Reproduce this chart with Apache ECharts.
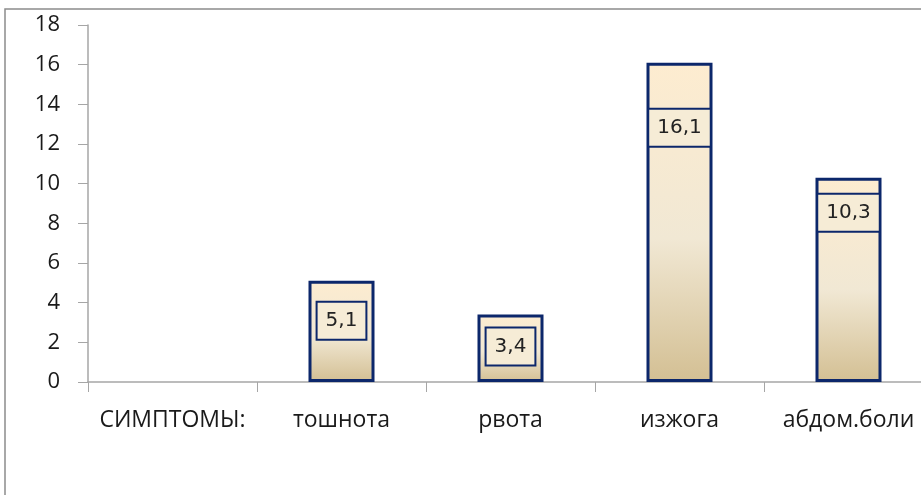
<!DOCTYPE html>
<html>
<head>
<meta charset="utf-8">
<script src="https://cdn.jsdelivr.net/npm/echarts@6/dist/echarts.min.js"></script>
<style>
html,body{margin:0;padding:0;background:#fff;}
#chart{width:921px;height:495px;}
</style>
</head>
<body>
<div id="chart"></div>
<script>
// Symptom categories and their frequencies (%)
const categories = ['СИМПТОМЫ:', 'тошнота', 'рвота', 'изжога', 'абдом.боли'];
const values = [null, 5.1, 3.4, 16.1, 10.3];
const yTicks = [0, 2, 4, 6, 8, 10, 12, 14, 16, 18];

// Vertical placement of each value box inside its bar (px from the bar top)
const labelInset = [0, 22, 14, 47, 17];

const chart = echarts.init(document.getElementById('chart'));

const barFill = new echarts.graphic.LinearGradient(0, 0, 0, 1, [
  { offset: 0, color: '#fdecd0' },
  { offset: 0.55, color: '#f1e8d4' },
  { offset: 1, color: '#d3bf93' }
]);

const seriesData = values.map((v, i) => ({
  value: v,
  label: { distance: labelInset[i] }
}));

chart.setOption({
  animation: false,
  graphic: [{
    type: 'rect',
    shape: { x: 5, y: 9, width: 1000, height: 600 },
    style: { fill: 'none', stroke: '#8c8c8c', lineWidth: 1.5 },
    silent: true
  }],
  grid: {
    left: 88, top: 25, width: 845, bottom: 113,
    containLabel: false,
    outerBoundsMode: 'none'
  },
  xAxis: {
    type: 'category',
    data: categories,
    axisLine: { lineStyle: { color: '#a6a6a6', width: 1.5 } },
    axisTick: { show: true, length: 10, lineStyle: { color: '#a6a6a6' } },
    axisLabel: {
      margin: 27,
      color: '#1a1a1a',
      fontFamily: 'Open Sans',
      fontSize: 23,
      interval: 0
    },
    splitLine: { show: false }
  },
  yAxis: {
    type: 'value',
    min: yTicks[0],
    max: yTicks[yTicks.length - 1],
    interval: 2,
    axisLine: { show: true, lineStyle: { color: '#a6a6a6', width: 1.5 } },
    axisTick: { show: true, length: 10, lineStyle: { color: '#a6a6a6' } },
    axisLabel: {
      margin: 28,
      color: '#1a1a1a',
      fontFamily: 'Open Sans',
      fontSize: 22
    },
    splitLine: { show: false }
  },
  series: [{
    type: 'bar',
    data: seriesData,
    barWidth: 66,
    itemStyle: {
      color: barFill,
      borderColor: '#0c276b',
      borderWidth: 3
    },
    label: {
      show: true,
      position: 'insideTop',
      formatter: p => String(p.value).replace('.', ','),
      fontFamily: 'DejaVu Sans',
      fontSize: 20,
      lineHeight: 22,
      color: '#222',
      backgroundColor: '#f6ecd6',
      borderColor: '#0c276b',
      borderWidth: 2,
      padding: [7, 8]
    }
  }]
});
</script>
</body>
</html>
